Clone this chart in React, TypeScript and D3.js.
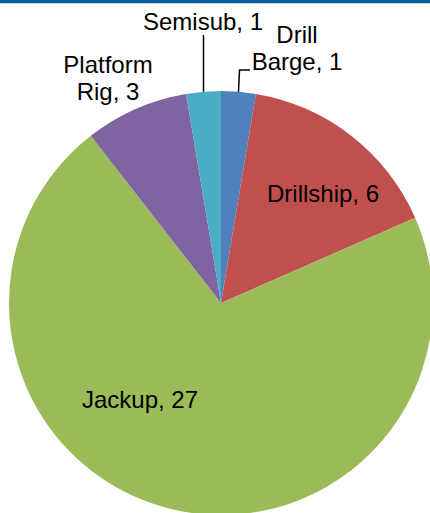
import React from "react";
import * as d3 from "d3";

const categories = ["Drill Barge", "Drillship", "Jackup", "Platform Rig", "Semisub"];
const values = [1, 6, 27, 3, 1];
const colors = ["#4F81BD", "#C0504D", "#9BBB59", "#8064A2", "#4BACC6"];

// label layout (annotation placement, relative to the svg)
const labelLines = [["Drill", "Barge, 1"], ["Drillship, 6"], ["Jackup, 27"], ["Platform", "Rig, 3"], ["Semisub, 1"]];
const labelPos: [number, number][] = [[297, 43], [323, 202], [140, 408], [108, 73], [203, 30]];

const W = 430, H = 513;
const cx = 221, cy = 303, R = 212;

export default function App() {
  const pie = d3.pie<number>().sort(null).value((d) => d);
  const arcs = pie(values);
  const arc = d3.arc<d3.PieArcDatum<number>>().innerRadius(0).outerRadius(R);
  const edge = (a: d3.PieArcDatum<number>) => {
    const m = (a.startAngle + a.endAngle) / 2;
    return [cx + R * Math.sin(m), cy - R * Math.cos(m)];
  };
  const lineH = 27;
  return (
    <svg width={W} height={H} style={{ position: "absolute", left: 0, top: 0, background: "#fff" }}
      fontFamily="'Liberation Sans', Arial, sans-serif">
      <rect x={0} y={0} width={W} height={3.3} fill="#0B5F96" />
      <g transform={`translate(${cx},${cy})`}>
        {arcs.map((a, i) => (
          <path key={categories[i]} d={arc(a) || ""} fill={colors[i]} />
        ))}
      </g>
      {/* leader lines */}
      {(() => {
        const [sx, sy] = edge(arcs[4]);
        return <path d={`M${sx},${sy}V35`} stroke="#000" strokeWidth={1.5} fill="none" />;
      })()}
      {(() => {
        const [bx, by] = edge(arcs[0]);
        return <path d={`M${bx},${by}L${bx + 1},70H250`} stroke="#000" strokeWidth={1.5} fill="none" />;
      })()}
      {labelLines.map((lines, i) => (
        <text key={categories[i]} x={labelPos[i][0]} y={labelPos[i][1]} textAnchor="middle" fontSize={24} fill="#000">
          {lines.map((l, j) => (
            <tspan key={j} x={labelPos[i][0]} dy={j === 0 ? 0 : lineH}>{l}</tspan>
          ))}
        </text>
      ))}
    </svg>
  );
}
